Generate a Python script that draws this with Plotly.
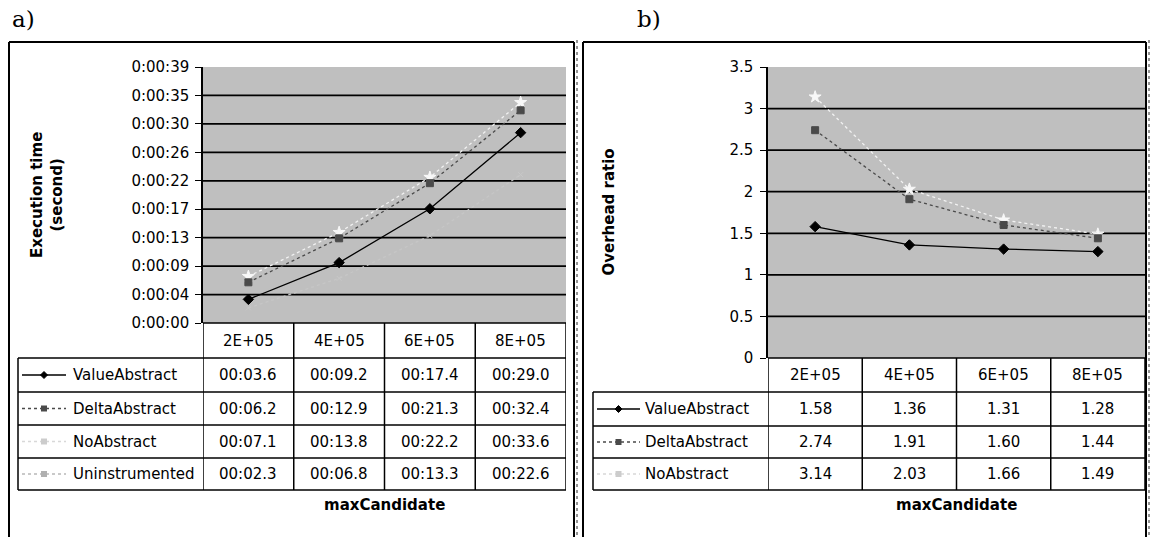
import plotly.graph_objects as go

W, H = 1151, 537

categories = ["2E+05", "4E+05", "6E+05", "8E+05"]

# Panel a: execution time (seconds)
time_series = ["ValueAbstract", "DeltaAbstract", "NoAbstract", "Uninstrumented"]
value_abstract_t = [3.6, 9.2, 17.4, 29.0]
delta_abstract_t = [6.2, 12.9, 21.3, 32.4]
no_abstract_t = [7.1, 13.8, 22.2, 33.6]
uninstrumented_t = [2.3, 6.8, 13.3, 22.6]
time_tick_labels = ["0:00:00", "0:00:04", "0:00:09", "0:00:13", "0:00:17",
                    "0:00:22", "0:00:26", "0:00:30", "0:00:35", "0:00:39"]
time_max = 39.0

# Panel b: overhead ratio
ratio_series = ["ValueAbstract", "DeltaAbstract", "NoAbstract"]
value_abstract_r = [1.58, 1.36, 1.31, 1.28]
delta_abstract_r = [2.74, 1.91, 1.60, 1.44]
no_abstract_r = [3.14, 2.03, 1.66, 1.49]
ratio_ticks = [0, 0.5, 1, 1.5, 2, 2.5, 3, 3.5]

FONT = "DejaVu Sans, Verdana, sans-serif"
FS = 15
BG = "#bfbfbf"

styles = {
    "ValueAbstract": dict(color="black", dash="solid", symbol="diamond", mcolor="black", msize=8),
    "DeltaAbstract": dict(color="#4a4a4a", dash="dot", symbol="square", mcolor="#4a4a4a", msize=7),
    "NoAbstract": dict(color="#f2f2f2", dash="dot", symbol="star", mcolor="#f8f8f8", msize=9),
    "Uninstrumented": dict(color="#c6c6c6", dash="dot", symbol="x-thin-open", mcolor="#c8c8c8", msize=5),
}


def fx(px):
    return px / W


def fy(py):
    return 1 - py / H


fig = go.Figure()


def add_series(name, vals, xa, ya):
    s = styles[name]
    fig.add_trace(go.Scatter(
        x=categories, y=vals, name=name, mode="lines+markers",
        xaxis=xa, yaxis=ya, showlegend=False,
        line=dict(color=s["color"], dash=s["dash"], width=1.3),
        marker=dict(symbol=s["symbol"], color=s["mcolor"], size=s["msize"],
                    line=dict(color=s["mcolor"], width=1)),
        cliponaxis=False,
    ))


add_series("Uninstrumented", uninstrumented_t, "x", "y")
add_series("NoAbstract", no_abstract_t, "x", "y")
add_series("DeltaAbstract", delta_abstract_t, "x", "y")
add_series("ValueAbstract", value_abstract_t, "x", "y")

add_series("NoAbstract", no_abstract_r, "x2", "y2")
add_series("DeltaAbstract", delta_abstract_r, "x2", "y2")
add_series("ValueAbstract", value_abstract_r, "x2", "y2")

# geometry (pixels)
A = dict(left=203, right=566, top=67, bottom=323, rows=[358, 392, 425, 458, 490],
         leg_left=18, text_x=71, samp=(22, 66), title_x=47)
B = dict(left=768, right=1145, top=67, bottom=358, rows=[392, 426, 458, 490],
         leg_left=593, text_x=643, samp=(597, 640), title_x=608)

axis_common = dict(showgrid=False, zeroline=False, fixedrange=True, automargin=False)
fig.update_layout(
    width=W, height=H, margin=dict(l=0, r=0, t=0, b=0, pad=0), autosize=False,
    paper_bgcolor="white", plot_bgcolor=BG,
    font=dict(family=FONT, size=FS, color="black"),
    xaxis=dict(domain=[fx(A["left"]), fx(A["right"])], type="category", range=[-0.5, 3.5],
               showticklabels=False, ticks="", showline=False, anchor="y", **axis_common),
    yaxis=dict(domain=[fy(A["bottom"]), fy(A["top"])], range=[0, time_max],
               tickvals=[i * time_max / 9 for i in range(10)], ticktext=time_tick_labels,
               ticks="outside", ticklen=6, tickcolor="black", tickwidth=1,
               showline=True, linecolor="black", linewidth=1.5, anchor="x",
               ticklabelstandoff=3, **axis_common),
    xaxis2=dict(domain=[fx(B["left"]), fx(B["right"])], type="category", range=[-0.5, 3.5],
                showticklabels=False, ticks="", showline=False, anchor="y2", **axis_common),
    yaxis2=dict(domain=[fy(B["bottom"]), fy(B["top"])], range=[0, 3.5],
                tickvals=ratio_ticks, ticktext=[f"{v:g}" for v in ratio_ticks],
                ticks="outside", ticklen=6, tickcolor="black", tickwidth=1,
                showline=True, linecolor="black", linewidth=1.5, anchor="x2",
                ticklabelstandoff=4, **axis_common),
)

shapes = []
annotations = []


def text(x, y, s, size=FS, xanchor="center", xref="paper", angle=0, family=None, bold=False):
    f = dict(size=size)
    if family:
        f["family"] = family
    annotations.append(dict(x=x, xref=xref, y=fy(y), yref="paper", text=(f"<b>{s}</b>" if bold else s),
                            xanchor=xanchor, yanchor="middle", showarrow=False, textangle=angle,
                            font=f))


# gridlines
for i in range(1, 9):
    v = i * time_max / 9
    shapes.append(dict(type="line", xref="x domain", yref="y", x0=0, x1=1, y0=v, y1=v,
                       line=dict(color="black", width=1.7), layer="below"))
for v in ratio_ticks[1:-1]:
    shapes.append(dict(type="line", xref="x2 domain", yref="y2", x0=0, x1=1, y0=v, y1=v,
                       line=dict(color="black", width=1.7), layer="below"))


# panel frames
def frame(x0, x1):
    shapes.append(dict(type="line", xref="paper", yref="paper", x0=fx(x0), x1=fx(x1), y0=fy(42), y1=fy(42),
                       line=dict(color="black", width=2)))
    for xx in (x0, x1):
        shapes.append(dict(type="line", xref="paper", yref="paper", x0=fx(xx), x1=fx(xx), y0=fy(42), y1=0,
                           line=dict(color="black", width=2)))


frame(9, 574)
frame(583, 1146)
for xx in (577, 1149):
    shapes.append(dict(type="line", xref="paper", yref="paper", x0=fx(xx), x1=fx(xx), y0=fy(40), y1=0,
                       line=dict(color="#707070", width=1.5, dash="dot")))


def legend_sample(name, x0, x1, ycen):
    s = styles[name]
    col = {"NoAbstract": "#d8d8d8", "Uninstrumented": "#b8b8b8"}.get(name, s["color"])
    shapes.append(dict(type="line", xref="paper", yref="paper", x0=fx(x0), x1=fx(x1), y0=fy(ycen), y1=fy(ycen),
                       line=dict(color=col, width=1.3, dash=s["dash"])))
    xc = (x0 + x1) / 2
    r = 3.5
    mcol = {"NoAbstract": "#cccccc", "Uninstrumented": "#b0b0b0"}.get(name, s["mcolor"])
    if name == "ValueAbstract":
        path = (f"M {fx(xc-r)} {fy(ycen)} L {fx(xc)} {fy(ycen-r)} L {fx(xc+r)} {fy(ycen)} "
                f"L {fx(xc)} {fy(ycen+r)} Z")
        shapes.append(dict(type="path", xref="paper", yref="paper", path=path,
                           fillcolor=mcol, line=dict(color=mcol, width=1)))
    else:
        shapes.append(dict(type="rect", xref="paper", yref="paper", x0=fx(xc - 3), x1=fx(xc + 3),
                           y0=fy(ycen - 3), y1=fy(ycen + 3), fillcolor=mcol, line=dict(width=0)))


def table(P, xa, series_names, series_vals, fmt):
    xd = xa + " domain"
    edges = [-0.5, 0.5, 1.5, 2.5, 3.5]
    for e in edges:
        shapes.append(dict(type="line", xref=xa, yref="paper", x0=e, x1=e,
                           y0=fy(P["bottom"]), y1=fy(P["rows"][-1]), line=dict(color="black", width=1.5)))
    shapes.append(dict(type="line", xref="paper", yref="paper", x0=fx(P["left"]), x1=fx(P["right"]),
                       y0=fy(P["bottom"]), y1=fy(P["bottom"]), line=dict(color="black", width=1.5)))
    for r in P["rows"]:
        shapes.append(dict(type="line", xref="paper", yref="paper", x0=fx(P["leg_left"]), x1=fx(P["right"]),
                           y0=fy(r), y1=fy(r), line=dict(color="black", width=1.5)))
    shapes.append(dict(type="line", xref="paper", yref="paper", x0=fx(P["leg_left"]), x1=fx(P["leg_left"]),
                       y0=fy(P["rows"][0]), y1=fy(P["rows"][-1]), line=dict(color="black", width=1.5)))
    ncat = len(categories)
    hy = (P["bottom"] + P["rows"][0]) / 2
    for j, c in enumerate(categories):
        text((j + 0.5) / ncat, hy, c, xref=xd)
    for i, (nm, vals) in enumerate(zip(series_names, series_vals)):
        yc = (P["rows"][i] + P["rows"][i + 1]) / 2
        legend_sample(nm, P["samp"][0], P["samp"][1], yc)
        text(fx(P["text_x"]), yc, nm, xanchor="left")
        for j, v in enumerate(vals):
            text((j + 0.5) / ncat, yc, fmt(v), xref=xd)
    text((fx(P["left"]) + fx(P["right"])) / 2, 505, "maxCandidate", size=15, bold=True)


table(A, "x", time_series, [value_abstract_t, delta_abstract_t, no_abstract_t, uninstrumented_t],
      lambda v: f"00:{v:04.1f}")
table(B, "x2", ratio_series, [value_abstract_r, delta_abstract_r, no_abstract_r],
      lambda v: f"{v:.2f}")

# axis titles
text(fx(A["title_x"]), (A["top"] + A["bottom"]) / 2, "Execution time<br>(second)", size=15, angle=-90, bold=True)
text(fx(B["title_x"]), (B["top"] + B["bottom"]) / 2, "Overhead ratio", size=15, angle=-90, bold=True)

# panel labels
serif = "DejaVu Serif, Liberation Serif, serif"
text(fx(10), 19, "a)", size=23, xanchor="left", family=serif)
text(fx(635), 19, "b)", size=23, xanchor="left", family=serif)

fig.update_layout(shapes=shapes, annotations=annotations)
fig.write_html("out.html")
